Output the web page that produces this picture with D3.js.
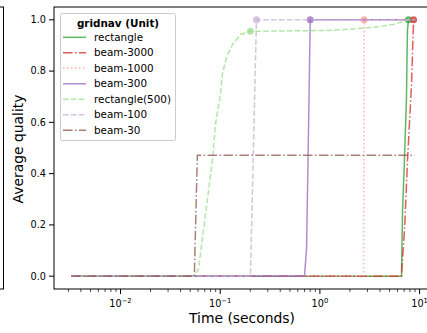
<!DOCTYPE html>
<html>
<head>
<meta charset="utf-8">
<script src="https://cdn.jsdelivr.net/npm/d3@7"></script>
<style>
    body { margin: 0; background: #fff; }
    svg { display: block; font-family: "DejaVu Sans", sans-serif; }
</style>
</head>
<body>
<div id="chart"></div>
<script>
// series names, in plot order
var seriesNames = ["rectangle", "beam-3000", "beam-1000", "beam-300", "rectangle(500)", "beam-100", "beam-30"];

// time (s) / average quality
var rectangleTime = [0.0032, 6.58, 6.74, 7.0, 7.38, 7.55, 7.74, 8.9];
var rectangleQuality = [0, 0, 0.25, 0.42, 0.69, 0.96, 1.0, 1.0];

var beam3000Time = [0.0032, 6.58, 7.1, 7.56, 8.3, 8.7, 8.9];
var beam3000Quality = [0, 0, 0.2, 0.45, 0.75, 1.0, 1.0];

var beam1000Time = [0.0032, 2.74, 2.78, 8.9];
var beam1000Quality = [0, 0, 1.0, 1.0];

var beam300Time = [0.0032, 0.70, 0.735, 0.76, 0.80, 8.9];
var beam300Quality = [0, 0, 0.11, 0.45, 1.0, 1.0];

var rect500Time = [0.0032, 0.054, 0.0605, 0.0838, 0.0897, 0.1007, 0.105, 0.1156, 0.133, 0.16, 0.201, 1.37, 3.45, 5.47, 6.9, 7.74, 8.9];
var rect500Quality = [0, 0, 0.027, 0.456, 0.593, 0.71, 0.788, 0.854, 0.904, 0.943, 0.955, 0.959, 0.971, 0.982, 0.994, 1.0, 1.0];

var beam100Time = [0.0032, 0.201, 0.231, 8.9];
var beam100Quality = [0, 0, 1.0, 1.0];

var beam30Time = [0.0032, 0.055, 0.059, 8.9];
var beam30Quality = [0, 0, 0.472, 0.472];

// where the marker sits (first time the best quality was reached), -1 = none
var markerIndex = [6, 5, 2, 4, 10, 2, -1];

var yTicks = [0, 0.2, 0.4, 0.6, 0.8, 1.0];
var xTickPowers = [-2, -1, 0, 1];

var colors = ["#2ca02c", "#d62728", "#ff9896", "#9467bd", "#98df8a", "#c5b0d5", "#8c564b"];
var dashes = ["none", "9.6,2.4,1.5,2.4", "1.5,2.5", "none", "5.5,2.4", "5.5,2.4", "9.6,2.4,1.5,2.4"];

var allTimes = [rectangleTime, beam3000Time, beam1000Time, beam300Time, rect500Time, beam100Time, beam30Time];
var allQuality = [rectangleQuality, beam3000Quality, beam1000Quality, beam300Quality, rect500Quality, beam100Quality, beam30Quality];

(function () {
    var width = 427, height = 333;
    var left = 54, plotTop = 7, bottom = 289;

    var series = seriesNames.map(function (name, i) {
        return {
            name: name,
            color: colors[i],
            dash: dashes[i],
            marker: markerIndex[i],
            points: allTimes[i].map(function (t, j) { return [t, allQuality[i][j]]; })
        };
    });

    // log-space 5% margins like matplotlib, ~99.7px per decade
    var tMin = d3.min(allTimes, function (a) { return d3.min(a); });
    var tMax = d3.max(allTimes, function (a) { return d3.max(a); });
    var lo = Math.log10(tMin), hi = Math.log10(tMax), pad = (hi - lo) * 0.05;
    var decade = 99.7;
    var x = d3.scaleLog()
        .domain([Math.pow(10, lo - pad), Math.pow(10, hi + pad)])
        .range([left, left + (hi - lo + 2 * pad) * decade]);
    var y = d3.scaleLinear().domain([-0.05, 1.05]).range([bottom, plotTop]);
    var right = x.range()[1];

    var svg = d3.select("#chart").append("svg")
        .attr("width", width)
        .attr("height", height);

    // edge of the neighbouring panel (cropped)
    svg.append("rect")
        .attr("x", -20).attr("y", plotTop)
        .attr("width", 23.5).attr("height", bottom - plotTop)
        .attr("fill", "none").attr("stroke", "#000").attr("stroke-width", 1);

    svg.append("defs").append("clipPath").attr("id", "plotclip")
        .append("rect")
        .attr("x", left).attr("y", plotTop)
        .attr("width", right - left).attr("height", bottom - plotTop);

    var plot = svg.append("g").attr("clip-path", "url(#plotclip)");

    var line = d3.line()
        .x(function (d) { return x(d[0]); })
        .y(function (d) { return y(d[1]); });

    series.forEach(function (s) {
        plot.append("path")
            .datum(s.points)
            .attr("d", line)
            .attr("fill", "none")
            .attr("stroke", s.color)
            .attr("stroke-opacity", 0.75)
            .attr("stroke-width", 1.5)
            .attr("stroke-dasharray", s.dash);
        if (s.marker >= 0) {
            var p = s.points[s.marker];
            plot.append("circle")
                .attr("cx", x(p[0]))
                .attr("cy", y(p[1]))
                .attr("r", 3.5)
                .attr("fill", s.color)
                .attr("fill-opacity", 0.75);
        }
    });

    // x axis: major + minor ticks
    var xAxis = svg.append("g");
    var minor = [];
    for (var p = -3; p <= 1; p++) {
        for (var m = 2; m <= 9; m++) {
            var v = m * Math.pow(10, p);
            if (v >= x.domain()[0] && v <= x.domain()[1]) minor.push(v);
        }
    }
    xAxis.selectAll(".minor").data(minor).enter().append("line")
        .attr("x1", function (d) { return x(d); })
        .attr("x2", function (d) { return x(d); })
        .attr("y1", bottom).attr("y2", bottom + 3)
        .attr("stroke", "#000").attr("stroke-width", 0.7);
    xAxis.selectAll(".major").data(xTickPowers).enter().append("line")
        .attr("x1", function (d) { return x(Math.pow(10, d)); })
        .attr("x2", function (d) { return x(Math.pow(10, d)); })
        .attr("y1", bottom).attr("y2", bottom + 5)
        .attr("stroke", "#000").attr("stroke-width", 1);
    var xl = xAxis.selectAll(".lbl").data(xTickPowers).enter().append("text")
        .attr("x", function (d) { return x(Math.pow(10, d)); })
        .attr("y", 307)
        .attr("text-anchor", "middle")
        .attr("font-size", "9.7px")
        .attr("fill", "#000");
    xl.append("tspan").text("10");
    xl.append("tspan")
        .attr("dy", -4.5)
        .attr("font-size", "6.8px")
        .text(function (d) { return d < 0 ? "\u2212" + (-d) : "" + d; });

    // y axis
    var yAxis = svg.append("g");
    yAxis.selectAll("line").data(yTicks).enter().append("line")
        .attr("x1", left - 5).attr("x2", left)
        .attr("y1", function (d) { return y(d); })
        .attr("y2", function (d) { return y(d); })
        .attr("stroke", "#000").attr("stroke-width", 1);
    yAxis.selectAll("text").data(yTicks).enter().append("text")
        .attr("x", left - 8)
        .attr("y", function (d) { return y(d); })
        .attr("dy", "0.35em")
        .attr("text-anchor", "end")
        .attr("font-size", "9.7px")
        .text(function (d) { return d.toFixed(1); });

    // spines
    svg.append("rect")
        .attr("x", left).attr("y", plotTop)
        .attr("width", right - left).attr("height", bottom - plotTop)
        .attr("fill", "none").attr("stroke", "#000").attr("stroke-width", 1);

    svg.append("text")
        .attr("x", 242).attr("y", 323)
        .attr("text-anchor", "middle")
        .attr("font-size", "13.9px")
        .text("Time (seconds)");

    svg.append("text")
        .attr("transform", "translate(23,149) rotate(-90)")
        .attr("text-anchor", "middle")
        .attr("font-size", "13.9px")
        .text("Average quality");

    // legend
    var legend = svg.append("g");
    legend.append("rect")
        .attr("x", 60.5).attr("y", 13.5)
        .attr("width", 115).attr("height", 127)
        .attr("rx", 2)
        .attr("fill", "#fff").attr("fill-opacity", 0.8)
        .attr("stroke", "#ccc").attr("stroke-width", 1);
    legend.append("text")
        .attr("x", 118).attr("y", 26.5)
        .attr("text-anchor", "middle")
        .attr("font-size", "10.4px")
        .attr("font-weight", "bold")
        .text("gridnav (Unit)");
    var rows = legend.selectAll(".row").data(series).enter().append("g")
        .attr("transform", function (d, i) { return "translate(0," + (37.3 + i * 15.5) + ")"; });
    rows.append("line")
        .attr("x1", 63).attr("x2", 86)
        .attr("stroke", function (d) { return d.color; })
        .attr("stroke-opacity", 0.75)
        .attr("stroke-width", 1.5)
        .attr("stroke-dasharray", function (d) { return d.dash; });
    rows.append("text")
        .attr("x", 94).attr("dy", "0.35em")
        .attr("font-size", "10.4px")
        .text(function (d) { return d.name; });
})();
</script>
</body>
</html>
